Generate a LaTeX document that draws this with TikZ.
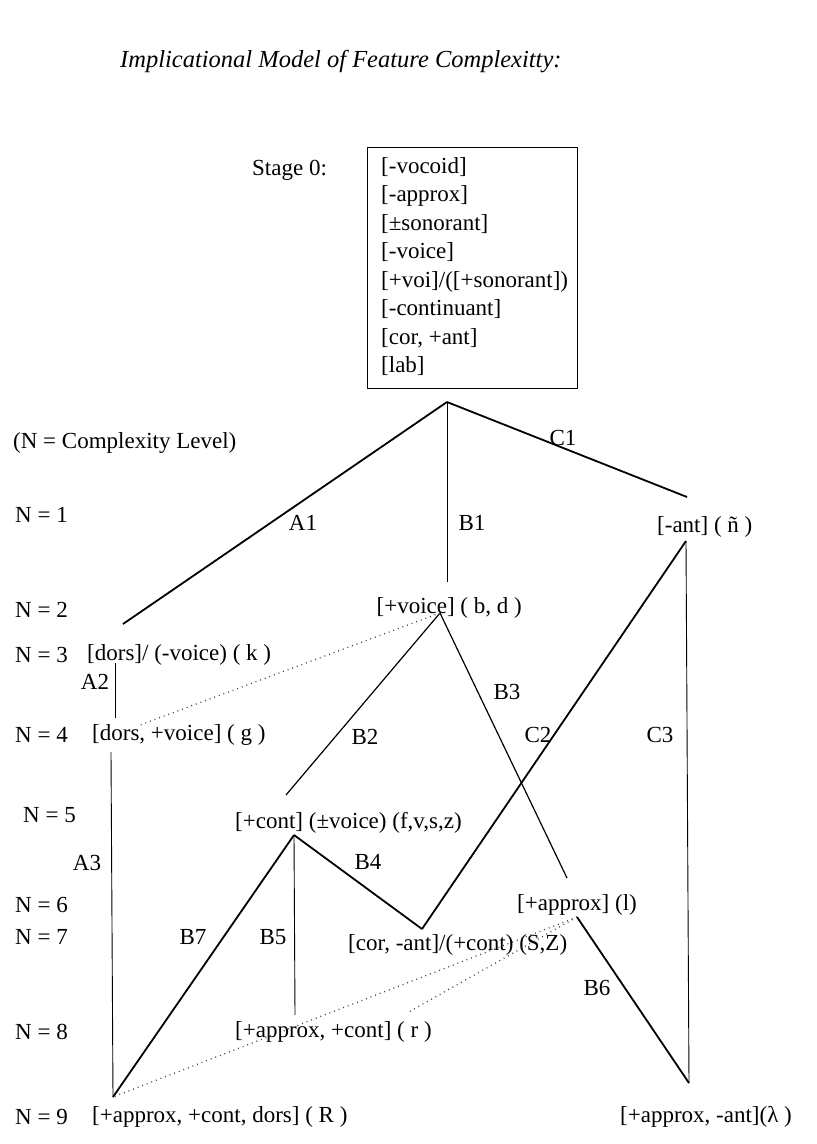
\documentclass[tikz,border=0pt]{standalone}
\usepackage{fontspec}
\setmainfont{Liberation Serif}
\begin{document}
\begin{tikzpicture}[x=1pt,y=-1pt,
  every node/.style={font=\fontsize{23}{28.5}\selectfont, inner sep=0pt},
  thickline/.style={line width=1.8pt},
  midline/.style={line width=1.2pt},
  vline/.style={line width=0.9pt},
  dotline/.style={line width=1.3pt, dash pattern=on 0.9pt off 4pt, black!75},
  txt/.style={anchor=west},
  elab/.style={anchor=center}]
\useasboundingbox (0,0) rectangle (817,1144);

% title
\node[txt, font=\fontsize{24.5}{28}\selectfont\itshape] (title) at (120,62) {Implicational Model of Feature Complexitty:};

% stage 0
\node[txt] (stage) at (252,170) {Stage 0:};
\node[draw, line width=0.8pt, anchor=north west, minimum width=210pt, minimum height=241pt] (stagebox) at (367,147) {};
\node[anchor=north west, align=left] (stagetext) at (381,157)
  {{[-vocoid]}\\{[-approx]}\\{[±sonorant]}\\{[-voice]}\\{[+voi]/([+sonorant])}\\{[-continuant]}\\{[cor, +ant]}\\{[lab]}};

% level labels
\node[txt] (nlev) at (13,443) {(N = Complexity Level)};
\node[txt] (n1) at (15,515) {N = 1};
\node[txt] (n2) at (15,610) {N = 2};
\node[txt] (n3) at (15,655) {N = 3};
\node[txt] (n4) at (15,735) {N = 4};
\node[txt] (n5) at (23,815) {N = 5};
\node[txt] (n6) at (15,905) {N = 6};
\node[txt] (n7) at (15,937) {N = 7};
\node[txt] (n8) at (15,1032) {N = 8};
\node[txt] (n9) at (15,1117) {N = 9};

% feature nodes
\node[txt] (ant) at (657,527) {[-ant] ( ñ )};
\node[anchor=east] (voice) at (522,608) {[+voice] ( b, d )};
\node[txt] (dorsk) at (87,655) {[dors]/ (-voice) ( k )};
\node[txt] (dorsg) at (92,735) {[dors, +voice] ( g )};
\node[txt] (cont) at (235,823) {[+cont] (±voice) (f,v,s,z)};
\node[txt] (approx) at (517,905) {[+approx] (l)};
\node[txt] (corant) at (348,945) {[cor, -ant]/(+cont) (S,Z)};
\node[txt] (appcont) at (235,1032) {[+approx, +cont] ( r )};
\node[txt] (appdors) at (92,1117) {[+approx, +cont, dors] ( R )};
\node[txt] (appant) at (620,1117) {[+approx, -ant](λ )};

% vertices
\coordinate (apex) at (447,402);
\coordinate (a1e) at (123,624);
\coordinate (c1e) at (687,497);
\coordinate (b1e) at (447,582);
\coordinate (antv) at (686,541);
\coordinate (vv) at (440,613);
\coordinate (a2t) at (115,663);
\coordinate (a2b) at (115,718);
\coordinate (a3t) at (111,752);
\coordinate (rv) at (113,1097);
\coordinate (b2e) at (286,795);
\coordinate (b3e) at (567,878);
\coordinate (cv) at (294,835);
\coordinate (corv) at (422,929);
\coordinate (b5e) at (295,1015);
\coordinate (lamv) at (689,1083);
\coordinate (apv) at (577,917);
\coordinate (dg) at (140,725);
\coordinate (rr) at (407,1013);

% connectors
\draw[thickline] (apex) -- (a1e);
\draw[thickline] (apex) -- (c1e);
\draw[vline] (apex) -- (b1e);
\draw[vline] (a2t) -- (a2b);
\draw[vline] (a3t) -- (rv);
\draw[midline] (vv) -- (b2e);
\draw[midline] (vv) -- (b3e);
\draw[thickline] (antv) -- (corv);
\draw[vline] (antv) -- (lamv);
\draw[thickline] (cv) -- (corv);
\draw[thickline] (cv) -- (rv);
\draw[vline] (cv) -- (b5e);
\draw[thickline] (apv) -- (lamv);
\draw[dotline] (vv) -- (dg);
\draw[dotline] (apv) -- (rv);
\draw[dotline] (apv) -- (rr);

% edge labels
\node[elab] (la1) at (303,523) {A1};
\node[elab] (lb1) at (472,523) {B1};
\node[elab] (lc1) at (563,438) {C1};
\node[elab] (la2) at (95,682) {A2};
\node[elab] (lb2) at (365,737) {B2};
\node[elab] (lb3) at (507,692) {B3};
\node[elab] (lc2) at (538,735) {C2};
\node[elab] (lc3) at (660,735) {C3};
\node[elab] (la3) at (87,863) {A3};
\node[elab] (lb4) at (368,862) {B4};
\node[elab] (lb7) at (193,937) {B7};
\node[elab] (lb5) at (273,937) {B5};
\node[elab] (lb6) at (597,988) {B6};
\end{tikzpicture}
\end{document}
